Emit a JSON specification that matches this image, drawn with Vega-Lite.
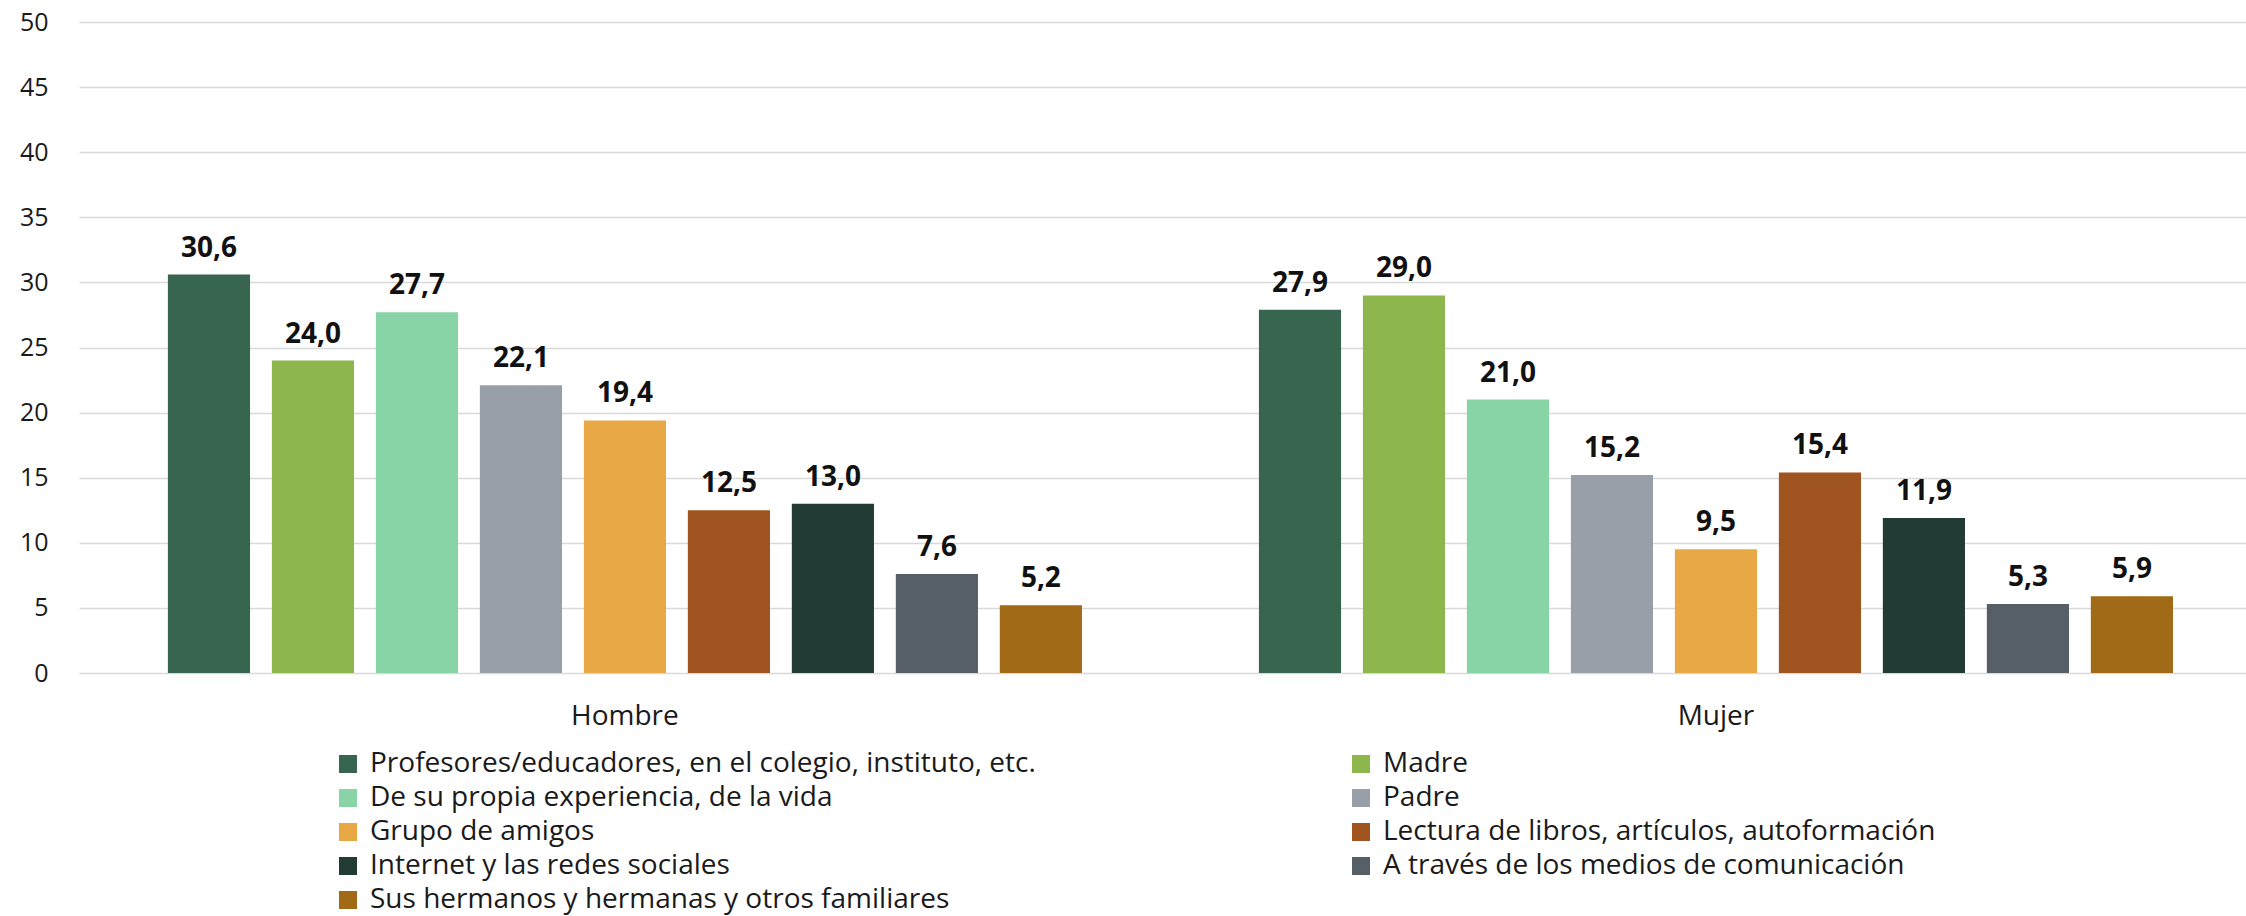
{
  "$schema": "https://vega.github.io/schema/vega-lite/v6.json",
  "width": 2167,
  "height": 651,
  "autosize": "none",
  "padding": {"left": 79, "top": 22, "right": 0, "bottom": 243},
  "background": "white",
  "config": {
    "locale": {"number": {"decimal": ",", "thousands": ".", "grouping": [3], "currency": ["", " €"]}},
    "view": {"stroke": null},
    "font": "Open Sans"
  },
  "data": {
    "values": [
      {"sexo": "Hombre", "fuente": "Profesores/educadores, en el colegio, instituto, etc.", "valor": 30.6},
      {"sexo": "Hombre", "fuente": "Madre", "valor": 24.0},
      {"sexo": "Hombre", "fuente": "De su propia experiencia, de la vida", "valor": 27.7},
      {"sexo": "Hombre", "fuente": "Padre", "valor": 22.1},
      {"sexo": "Hombre", "fuente": "Grupo de amigos", "valor": 19.4},
      {"sexo": "Hombre", "fuente": "Lectura de libros, artículos, autoformación", "valor": 12.5},
      {"sexo": "Hombre", "fuente": "Internet y las redes sociales", "valor": 13.0},
      {"sexo": "Hombre", "fuente": "A través de los medios de comunicación", "valor": 7.6},
      {"sexo": "Hombre", "fuente": "Sus hermanos y hermanas y otros familiares", "valor": 5.2},
      {"sexo": "Mujer", "fuente": "Profesores/educadores, en el colegio, instituto, etc.", "valor": 27.9},
      {"sexo": "Mujer", "fuente": "Madre", "valor": 29.0},
      {"sexo": "Mujer", "fuente": "De su propia experiencia, de la vida", "valor": 21.0},
      {"sexo": "Mujer", "fuente": "Padre", "valor": 15.2},
      {"sexo": "Mujer", "fuente": "Grupo de amigos", "valor": 9.5},
      {"sexo": "Mujer", "fuente": "Lectura de libros, artículos, autoformación", "valor": 15.4},
      {"sexo": "Mujer", "fuente": "Internet y las redes sociales", "valor": 11.9},
      {"sexo": "Mujer", "fuente": "A través de los medios de comunicación", "valor": 5.3},
      {"sexo": "Mujer", "fuente": "Sus hermanos y hermanas y otros familiares", "valor": 5.9}
    ]
  },
  "encoding": {
    "x": {
      "field": "sexo", "type": "nominal", "sort": ["Hombre", "Mujer"],
      "scale": {"paddingInner": 0.1622, "paddingOuter": 0.0742, "align": 0.549},
      "axis": {"title": null, "labelAngle": 0, "ticks": false, "domain": false, "grid": false, "labelFontSize": 28, "labelPadding": 29, "labelColor": "#1a1a1a", "labelFont": "Open Sans"}
    },
    "xOffset": {
      "field": "fuente", "type": "nominal",
      "sort": ["Profesores/educadores, en el colegio, instituto, etc.", "Madre", "De su propia experiencia, de la vida", "Padre", "Grupo de amigos", "Lectura de libros, artículos, autoformación", "Internet y las redes sociales", "A través de los medios de comunicación", "Sus hermanos y hermanas y otros familiares"],
      "scale": {"paddingInner": 0.21, "paddingOuter": 0}
    },
    "y": {
      "field": "valor", "type": "quantitative",
      "scale": {"domain": [0, 50], "nice": false},
      "axis": {"values": [0, 5, 10, 15, 20, 25, 30, 35, 40, 45, 50], "title": null, "domain": false, "ticks": false, "gridColor": "#d9d9d9", "gridWidth": 1.5, "labelFontSize": 25, "labelPadding": 31, "labelColor": "#1a1a1a", "labelFont": "Open Sans"}
    }
  },
  "layer": [
    {
      "mark": {"type": "bar"},
      "encoding": {
        "color": {
          "field": "fuente", "type": "nominal",
          "sort": ["Profesores/educadores, en el colegio, instituto, etc.", "De su propia experiencia, de la vida", "Grupo de amigos", "Internet y las redes sociales", "Sus hermanos y hermanas y otros familiares", "Madre", "Padre", "Lectura de libros, artículos, autoformación", "A través de los medios de comunicación"],
          "scale": {
            "domain": ["Profesores/educadores, en el colegio, instituto, etc.", "De su propia experiencia, de la vida", "Grupo de amigos", "Internet y las redes sociales", "Sus hermanos y hermanas y otros familiares", "Madre", "Padre", "Lectura de libros, artículos, autoformación", "A través de los medios de comunicación"],
            "range": ["#37654f", "#88d4a7", "#e8a845", "#223c35", "#a06a16", "#8db64c", "#989fa8", "#a05420", "#575f66"]
          },
          "legend": {
            "orient": "none", "legendX": 255, "legendY": 728, "columns": 2, "title": null,
            "symbolType": "square", "symbolSize": 324, "symbolStrokeWidth": 0,
            "labelFontSize": 28, "labelOffset": 8, "columnPadding": 311, "rowPadding": 6,
            "labelColor": "#1a1a1a", "labelLimit": 1000, "padding": 0, "labelFont": "Open Sans"
          }
        }
      }
    },
    {
      "mark": {"type": "text", "baseline": "alphabetic", "dy": -18, "fontSize": 28, "fontWeight": "bold", "color": "#111111", "font": "Open Sans"},
      "encoding": {"text": {"field": "valor", "type": "quantitative", "format": ".1f"}}
    }
  ]
}
